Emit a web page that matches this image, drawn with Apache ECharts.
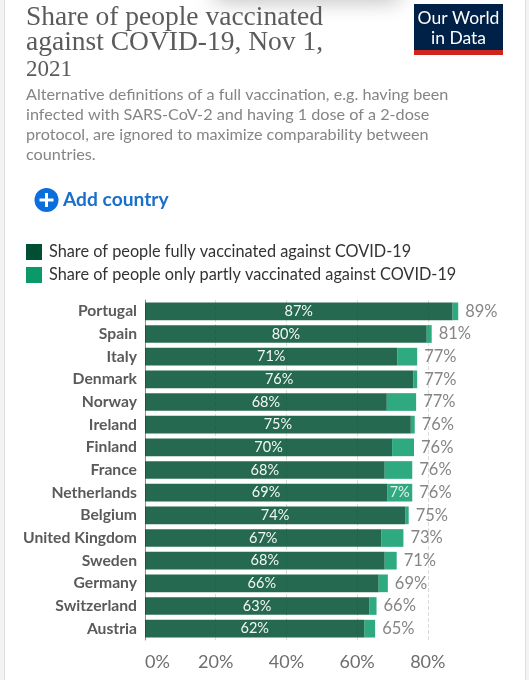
<!DOCTYPE html>
<html><head><meta charset="utf-8">
<style>html,body{margin:0;padding:0;background:#fff}#c{width:529px;height:680px}</style>
<script src="https://cdn.jsdelivr.net/npm/echarts@6/dist/echarts.min.js"></script>
</head><body><div id="c"></div>
<script>
const countries = ['Portugal','Spain','Italy','Denmark','Norway','Ireland','Finland','France','Netherlands','Belgium','United Kingdom','Sweden','Germany','Switzerland','Austria'];
const fullyVaccinated = [87.0,79.7,71.4,75.9,68.4,75.2,69.9,67.8,68.5,73.6,66.9,67.8,66.1,63.4,62.1];
const partlyVaccinated = [1.6,1.4,5.6,1.1,8.3,1.1,6.2,7.8,7.1,1.0,6.2,3.4,2.6,2.1,3.0];
const partlyLabelled = ['Netherlands'];
const xTicks = [0,20,40,60,80];
const nameFull = 'Share of people fully vaccinated against COVID-19';
const namePartly = 'Share of people only partly vaccinated against COVID-19';
const titleLines = ['Share of people vaccinated','against COVID-19, Nov 1,'];
const titleYear = '2021';
const subtitleLines = ['Alternative definitions of a full vaccination, e.g. having been','infected with SARS-CoV-2 and having 1 dose of a 2-dose','protocol, are ignored to maximize comparability between','countries.'];

const totals = fullyVaccinated.map((v,i)=>+(v+partlyVaccinated[i]).toFixed(1));
const chart = echarts.init(document.getElementById('c'),null,{renderer:'canvas'});
const serif = '"Liberation Serif","DejaVu Serif",serif';
const sans = 'Lato,"Open Sans",sans-serif';
const txt = (x,y,text,font,size,fill,extra)=>({type:'text',x,y,style:Object.assign({text,fontFamily:font,fontSize:size,fill,textVerticalAlign:'middle'},extra||{})});

chart.setOption({
  animation:false,
  backgroundColor:'#fff',
  textStyle:{fontFamily:sans},
  grid:{left:145,top:300,width:353.5,height:340,containLabel:false},
  legend:{
    left:26,top:244,padding:0,orient:'vertical',itemWidth:16,itemHeight:16,itemGap:7,icon:'rect',
    selectedMode:false,
    textStyle:{fontFamily:sans,fontSize:16.3,color:'#333',padding:[0,0,0,2]},
    data:[{name:nameFull,itemStyle:{opacity:1}},{name:namePartly,itemStyle:{opacity:1}}]
  },
  xAxis:{
    type:'value',min:0,max:100,interval:20,
    axisLine:{show:false},axisTick:{show:false},
    splitLine:{show:true,showMinLine:false,showMaxLine:false,lineStyle:{color:'#dcdcdc',type:'dashed',width:1}},
    axisLabel:{
      color:'#6e6e6e',fontSize:18,fontFamily:sans,margin:13,alignMinLabel:'left',
      showMaxLabel:false,
      formatter:v=>xTicks.includes(v)?v+'%':''
    }
  },
  yAxis:{
    type:'category',inverse:true,data:countries,
    axisTick:{show:false},
    axisLine:{show:true,lineStyle:{color:'#8e8e8e',width:1}},
    axisLabel:{color:'#5a5a5a',fontSize:15.7,fontFamily:sans,fontWeight:'bold',margin:8}
  },
  series:[
    {name:nameFull,type:'bar',stack:'a',barWidth:17.7,
     itemStyle:{color:'#004f33',opacity:0.85},
     label:{show:true,position:'inside',color:'#fff',fontFamily:sans,fontSize:14.5,opacity:0.95,formatter:p=>Math.round(p.value)+'%'},
     data:fullyVaccinated},
    {name:namePartly,type:'bar',stack:'a',barWidth:17.7,
     itemStyle:{color:'#0a9a6a',opacity:0.85},
     data:partlyVaccinated.map((v,i)=>({value:v,label:{show:partlyLabelled.includes(countries[i]),position:'inside',color:'#fff',fontFamily:sans,fontSize:14.5,formatter:p=>Math.round(p.value)+'%'}}))},
    {name:'Total',type:'scatter',symbolSize:0,silent:true,
     label:{show:true,position:'right',distance:7,color:'#666',fontFamily:sans,fontSize:16.5,formatter:p=>Math.round(p.value[0])+'%'},
     data:totals.map((v,i)=>[v,countries[i]])}
  ],
  graphic:{elements:[
    {type:'rect',shape:{x:0,y:0,width:4,height:680},style:{fill:'#f3f3f3'},silent:true},
    {type:'rect',shape:{x:526,y:0,width:3,height:680},style:{fill:'#f3f3f3'},silent:true},
    {type:'rect',shape:{x:4,y:0,width:1,height:680},style:{fill:'#dddddd'},silent:true},
    {type:'rect',shape:{x:525,y:0,width:1,height:680},style:{fill:'#dddddd'},silent:true},
    {type:'rect',shape:{x:215,y:-20,width:185,height:20},silent:true,style:{fill:'#cccccc',shadowBlur:22,shadowColor:'rgba(0,0,0,0.3)'}},
    txt(26,18,titleLines[0],serif,27.5,'#5b5b5b'),
    txt(26,43,titleLines[1],serif,27.5,'#5b5b5b'),
    txt(26,70,titleYear,serif,23,'#5b5b5b'),
    ...subtitleLines.map((t,i)=>txt(26,95+i*19.8,t,sans,16.2,'#858585')),
    {type:'circle',shape:{cx:46.5,cy:200,r:12},style:{fill:'#0a6fdc'},silent:true},
    {type:'rect',shape:{x:39.5,y:198.5,width:14,height:3},style:{fill:'#fff'},silent:true},
    {type:'rect',shape:{x:45,y:193,width:3,height:14},style:{fill:'#fff'},silent:true},
    txt(63,200,'Add country',sans,19.2,'#1a6fc9',{fontWeight:'bold'}),
    {type:'rect',shape:{x:414,y:4,width:89,height:51},style:{fill:'#002147'},silent:true},
    {type:'rect',shape:{x:414,y:50,width:89,height:5},style:{fill:'#ce261e'},silent:true},
    txt(458.5,18,'Our World',sans,17.5,'#fff',{textAlign:'center'}),
    txt(458.5,38,'in Data',sans,17.5,'#fff',{textAlign:'center'})
  ]}
});
</script></body></html>
